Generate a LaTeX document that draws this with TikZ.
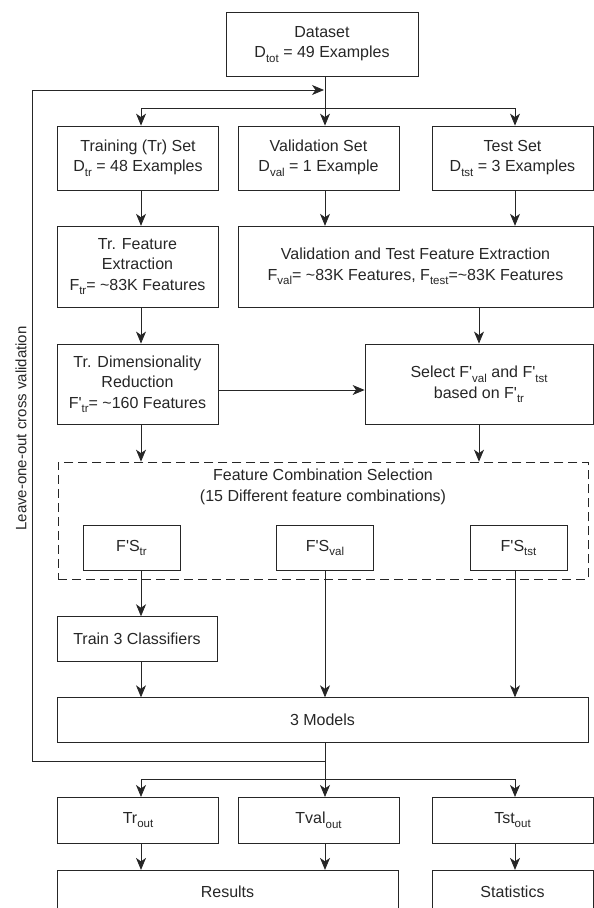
\documentclass[tikz,border=0pt]{standalone}
\usepackage{fontspec}
\newfontfamily\arialfont{Liberation Sans}
\usetikzlibrary{arrows.meta}
\newcommand{\sbs}[1]{\raisebox{-4.5pt}{\fontsize{11.5}{12}\selectfont #1}}
\newcommand{\tld}{\textasciitilde}

\begin{document}
\begin{tikzpicture}[x=1pt, y=-1pt, line width=0.8pt, color=black!85,
	font=\arialfont\fontsize{16}{20.5}\selectfont,
	box/.style={draw, align=center, inner sep=2pt},
	arr/.style={-{Stealth[length=12pt, width=10pt, inset=3.5pt]}}]
	\useasboundingbox (0,0) rectangle (594,908);
	% columns of the arrows
	\coordinate (colA) at (141,0);
	\coordinate (colB) at (325,0);
	\coordinate (colC) at (515,0);
	\node[box, minimum width=192pt, minimum height=63.6pt] (data) at (322,44.5) {Dataset\\D\sbs{tot} = 49 Examples};
	\node[box, minimum width=161pt, minimum height=64pt] (tr) at (138,158) {Training (Tr) Set\\D\sbs{tr} = 48 Examples};
	\node[box, minimum width=161pt, minimum height=64pt] (val) at (318.5,158) {Validation Set\\D\sbs{val} = 1 Example};
	\node[box, minimum width=161pt, minimum height=64pt] (tst) at (512.5,158) {Test Set\\D\sbs{tst} = 3 Examples};
	\node[box, minimum width=161pt, minimum height=81pt] (trfe) at (137.5,266.7) {Tr. Feature\\Extraction\\F\sbs{tr}= \tld83K Features};
	\node[box, minimum width=355pt, minimum height=81pt] (vtfe) at (415.5,266.7) {Validation and Test Feature Extraction\\F\sbs{val}= \tld83K Features, F\sbs{test}=\tld83K Features};
	\node[box, minimum width=161pt, minimum height=80.7pt] (trdr) at (137.5,384.3) {Tr. Dimensionality\\Reduction\\F'\sbs{tr}= \tld160 Features};
	\node[box, minimum width=228pt, minimum height=80.7pt] (sel) at (479,384.3) {Select F'\sbs{val} and F'\sbs{tst}\\based on F'\sbs{tr}};
	% feature combination selection
	\node[draw, dash pattern=on 9pt off 5pt, minimum width=530pt, minimum height=117.3pt] (fcs) at (323,520.7) {};
	\node[align=center] (fcstitle) at (323,487) {Feature Combination Selection\\(15 Different feature combinations)};
	\node[box, minimum width=97pt, minimum height=45.3pt] (fstr) at (131.5,548) {F'S\sbs{tr}};
	\node[box, minimum width=96.5pt, minimum height=45.3pt] (fsval) at (325,548) {F'S\sbs{val}};
	\node[box, minimum width=97pt, minimum height=45.3pt] (fstst) at (518.5,548) {F'S\sbs{tst}};
	\node[box, minimum width=160pt, minimum height=44.7pt] (train) at (137,639) {Train 3 Classifiers};
	\node[box, minimum width=531pt, minimum height=45pt] (models) at (322.5,720.2) {3 Models};
	\node[box, minimum width=161pt, minimum height=45.7pt] (trout) at (138,820.2) {Tr\sbs{out}};
	\node[box, minimum width=161pt, minimum height=45.7pt] (tvalout) at (318.5,820.2) {Tval\sbs{out}};
	\node[box, minimum width=161pt, minimum height=45.7pt] (tstout) at (512.5,820.2) {Tst\sbs{out}};
	\node[box, minimum width=341pt, minimum height=42pt] (res) at (227.5,891.3) {Results};
	\node[box, minimum width=161pt, minimum height=42pt] (stats) at (512.5,891.3) {Statistics};
	\node[rotate=90, font=\arialfont\fontsize{15}{18}\selectfont] (loo) at (21,428.5) {Leave-one-out cross validation};
	% split of the dataset
	\coordinate (fork1) at (325,108.3);
	\draw[arr] (data.south -| colB) -- (val.north -| colB);
	\draw[arr] (fork1) -| (tr.north -| colA);
	\draw[arr] (fork1) -| (tst.north -| colC);
	% features
	\draw[arr] (tr.south -| colA) -- (trfe.north -| colA);
	\draw[arr] (val.south -| colB) -- (vtfe.north -| colB);
	\draw[arr] (tst.south -| colC) -- (vtfe.north -| colC);
	\draw[arr] (trfe.south -| colA) -- (trdr.north -| colA);
	\draw[arr] (vtfe.south -| sel.north) -- (sel.north);
	\draw[arr] ([yshift=-5.7pt]trdr.east) -- ([yshift=-5.7pt]trdr.east -| sel.west);
	\draw[arr] (trdr.south -| colA) -- (fcs.north -| colA);
	\draw[arr] (sel.south) -- (fcs.north -| sel.south);
	% models
	\draw[arr] (fstr.south -| colA) -- (train.north -| colA);
	\draw[arr] (train.south -| colA) -- (models.north -| colA);
	\draw[arr] (fsval.south -| colB) -- (models.north -| colB);
	\draw[arr] (fstst.south -| colC) -- (models.north -| colC);
	% leave-one-out loop
	\coordinate (loopL) at (32,761);
	\coordinate (loopEnd) at (324,90);
	\draw[arr] (models.south -| colB) |- (loopL) |- (loopEnd);
	% outputs
	\coordinate (fork2) at (325,779.3);
	\draw (models.south -| colB) -- (fork2);
	\draw[arr] (fork2) -| (trout.north -| colA);
	\draw[arr] (fork2) -- (tvalout.north -| colB);
	\draw[arr] (fork2) -| (tstout.north -| colC);
	\draw[arr] (trout.south -| colA) -- (res.north -| colA);
	\draw[arr] (tvalout.south -| colB) -- (res.north -| colB);
	\draw[arr] (tstout.south -| colC) -- (stats.north -| colC);
\end{tikzpicture}
\end{document}
